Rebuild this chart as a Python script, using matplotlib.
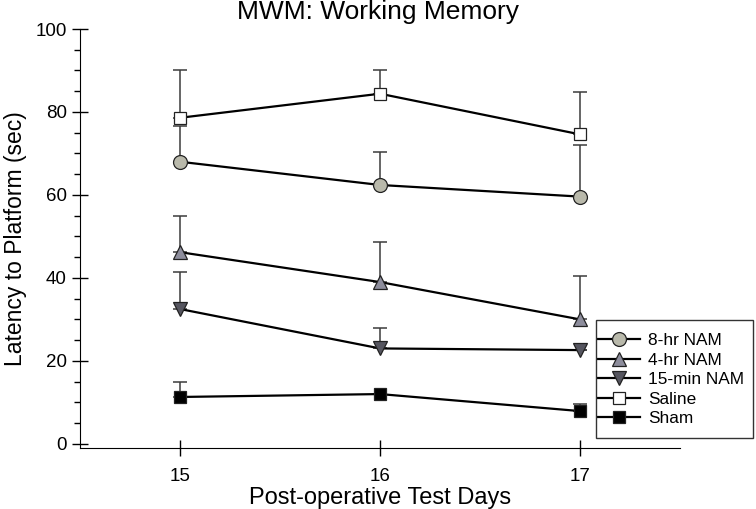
import numpy as np
import matplotlib
matplotlib.use("Agg")
import matplotlib.pyplot as plt
from matplotlib.patches import Rectangle
from matplotlib.ticker import MultipleLocator

plt.rcParams['font.family'] = ['Liberation Sans', 'DejaVu Sans']

days = [15, 16, 17]

# mean latency (sec) and upper error (SEM) per group
groups = ['8-hr NAM', '4-hr NAM', '15-min NAM', 'Saline', 'Sham']
means = {
    '8-hr NAM':   [68.0, 62.4, 59.6],
    '4-hr NAM':   [46.2, 39.0, 30.0],
    '15-min NAM': [32.5, 23.0, 22.6],
    'Saline':     [78.6, 84.4, 74.6],
    'Sham':       [11.3, 12.0, 7.9],
}
errors = {
    '8-hr NAM':   [8.7, 8.0, 12.4],
    '4-hr NAM':   [8.8, 9.6, 10.5],
    '15-min NAM': [9.0, 4.9, 0.0],
    'Saline':     [11.4, 5.6, 10.2],
    'Sham':       [3.5, 0.0, 1.7],
}
markers = {'8-hr NAM': 'o', '4-hr NAM': '^', '15-min NAM': 'v',
           'Saline': 's', 'Sham': 's'}
faces = {'8-hr NAM': '#b9b9ab', '4-hr NAM': '#8d8d9c', '15-min NAM': '#55555f',
         'Saline': 'white', 'Sham': 'black'}
sizes = {'8-hr NAM': 10, '4-hr NAM': 10, '15-min NAM': 10,
         'Saline': 9, 'Sham': 9}

W, H = 756, 509
fig = plt.figure(figsize=(W / 100, H / 100), dpi=100)
ax = fig.add_axes([80 / W, 1 - 448 / H, 600 / W, 419 / H])

for g in groups:
    m = np.array(means[g])
    e = np.array(errors[g])
    # only upper error bars
    ax.errorbar(days, m, yerr=[np.zeros_like(e), e], fmt='none',
                ecolor='#3c3c3c', elinewidth=1.1, capsize=4.8, capthick=1.1,
                zorder=2)
for g in groups:
    ax.plot(days, means[g], color='black', linewidth=1.6,
            marker=markers[g], markersize=sizes[g],
            markerfacecolor=faces[g], markeredgecolor='#222222',
            markeredgewidth=0.9, label=g, zorder=3)

ax.set_xlim(14.5, 17.5)
ax.set_ylim(-1, 100)
ax.set_xticks(days)
ax.set_yticks([0, 20, 40, 60, 80, 100])
ax.yaxis.set_minor_locator(MultipleLocator(5))
ax.spines['top'].set_visible(False)
ax.spines['right'].set_visible(False)
ax.tick_params(axis='both', which='major', direction='inout', length=11,
               width=1, labelsize=13.5, colors='black')
ax.tick_params(axis='y', which='minor', direction='out', length=4, width=1)
ax.tick_params(axis='x', pad=9)
ax.tick_params(axis='y', pad=4)

ax.set_xlabel('Post-operative Test Days', fontsize=17, labelpad=1)
ax.set_ylabel('Latency to Platform (sec)', fontsize=16.5, labelpad=6)
fig.text(0.5, 1 - 18.5 / H, 'MWM: Working Memory', ha='center',
         va='baseline', fontsize=19)

# legend box drawn by hand to match the reference frame
fig.patches.append(Rectangle((596 / W, 1 - 438 / H), 157 / W, 118 / H,
                             transform=fig.transFigure, fill=False,
                             edgecolor='#333333', linewidth=1.0))
ax.legend(loc='upper left', bbox_to_anchor=(598 / W, 1 - 333 / H),
          bbox_transform=fig.transFigure, fontsize=12.4, frameon=False,
          handlelength=2.45, labelspacing=0.26, borderpad=0,
          handletextpad=0.45, borderaxespad=0)

fig.savefig('out.png', dpi=100)
